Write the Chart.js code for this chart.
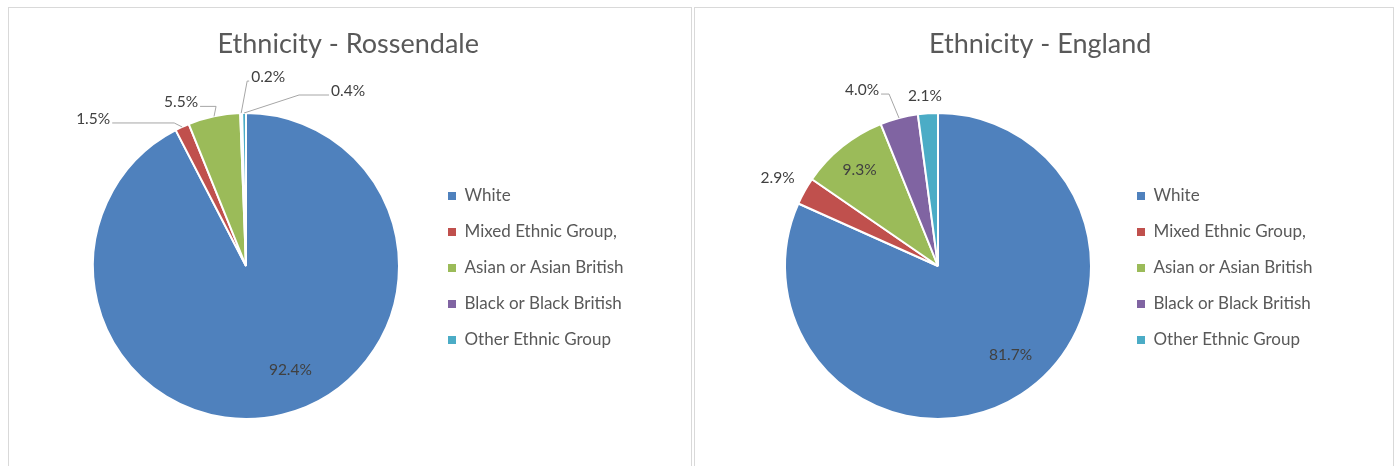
<!DOCTYPE html>
<html>
<head>
<meta charset="utf-8">
<script src="https://cdn.jsdelivr.net/npm/chart.js@4.4.1/dist/chart.umd.min.js"></script>
<style>
  body { margin: 0; background: #fff; width: 1397px; height: 466px; overflow: hidden; position: relative; font-family: Lato, sans-serif; }
  .box { position: absolute; top: 7px; height: 480px; border: 1px solid #d9d9d9; background: #fff; }
  #box1 { left: 8px; width: 682px; }
  #box2 { left: 694px; width: 698px; }
  canvas { position: absolute; top: 0; left: 0; }
</style>
</head>
<body>
<div class="box" id="box1"><canvas id="rossendaleChart" width="682" height="460"></canvas></div>
<div class="box" id="box2"><canvas id="englandChart" width="698" height="460"></canvas></div>
<script>
// data
const categories = ['White', 'Mixed Ethnic Group,', 'Asian or Asian British', 'Black or Black British', 'Other Ethnic Group'];
const rossendaleValues = [92.4, 1.5, 5.5, 0.2, 0.4];
const englandValues = [81.7, 2.9, 9.3, 4.0, 2.1];
const sliceColors = ['#4f81bd', '#c0504d', '#9bbb59', '#8064a2', '#4bacc6'];

const textColor = '#595959';
const legendFontSize = 17;
const legendBox = 8;
const legendPad = 19;

// where each percentage label sits (inside = fraction of radius, plus an offset from the slice edge / inner point)
const rossendalePlaces = [
    { inside: 0.73, dx: 18, dy: -5 },
    { dx: -89, dy: -8, leader: 62 },
    { dx: -33, dy: -14, leader: 16 },
    { dx: 27, dy: -36, leader: 2 },
    { dx: 104, dy: -22, leader: 30 }
];
const englandPlaces = [
    { inside: 0.74, dx: 11, dy: -6 },
    { dx: -27, dy: -13 },
    { inside: 0.82, dx: 0, dy: 2 },
    { dx: -37, dy: -28, leader: 8 },
    { dx: -3, dy: -17 }
];

// percentage labels + leader lines, positioned from the arcs Chart.js laid out
const pieLabels = {
    id: 'pieLabels',
    afterDatasetsDraw(chart, args, opts) {
        const ctx = chart.ctx;
        const meta = chart.getDatasetMeta(0);
        const values = chart.data.datasets[0].data;
        ctx.save();
        ctx.font = '15.5px Lato';
        ctx.fillStyle = '#404040';
        ctx.strokeStyle = '#a6a6a6';
        ctx.lineWidth = 1;
        ctx.textAlign = 'center';
        ctx.textBaseline = 'middle';
        meta.data.forEach(function (arc, i) {
            const p = arc.getProps(['x', 'y', 'startAngle', 'endAngle', 'outerRadius'], true);
            const mid = (p.startAngle + p.endAngle) / 2;
            const place = opts.places[i];
            const text = values[i].toFixed(1) + '%';
            const ex = p.x + Math.cos(mid) * p.outerRadius;
            const ey = p.y + Math.sin(mid) * p.outerRadius;
            let lx, ly;
            if (place.inside) {
                lx = p.x + Math.cos(mid) * p.outerRadius * place.inside + place.dx;
                ly = p.y + Math.sin(mid) * p.outerRadius * place.inside + place.dy;
            } else {
                lx = ex + place.dx;
                ly = ey + place.dy;
                if (place.leader) {
                    const w = ctx.measureText(text).width;
                    const side = lx < ex ? 1 : -1;
                    const ax = lx + side * (w / 2 + 2);
                    const ay = ly + 4;
                    ctx.beginPath();
                    ctx.moveTo(ax, ay);
                    ctx.lineTo(ax + side * place.leader, ay);
                    ctx.lineTo(ex, ey);
                    ctx.stroke();
                }
            }
            ctx.fillText(text, lx, ly);
        });
        ctx.restore();
    }
};

function widestLabel() {
    const c = document.createElement('canvas').getContext('2d');
    c.font = legendFontSize + 'px Lato';
    return Math.max.apply(null, categories.map(function (t) { return c.measureText(t).width; }));
}

function makePie(id, title, values, places, canvasW, centerX, legendBoxX) {
    // legend width in Chart.js = padding + box + gap + text + 10
    const colWidth = legendBox + legendFontSize / 2 + widestLabel();
    const legendLeft = legendBoxX - legendPad;
    const ctx = document.getElementById(id).getContext('2d');
    return new Chart(ctx, {
        type: 'pie',
        data: {
            labels: categories,
            datasets: [{
                data: values,
                backgroundColor: sliceColors,
                borderColor: '#ffffff',
                borderWidth: 2,
                hoverOffset: 0
            }]
        },
        options: {
            responsive: false,
            animation: false,
            events: [],
            layout: {
                padding: { top: 0, bottom: 48, left: 2 * centerX - legendLeft, right: canvasW - legendBoxX - colWidth - 10 }
            },
            plugins: {
                title: {
                    display: true,
                    text: title,
                    color: textColor,
                    font: { family: 'Lato', size: 27, weight: 'normal' },
                    padding: { top: 19.8, bottom: 51.8 }
                },
                legend: {
                    position: 'right',
                    // empty legend title only used to push the items down
                    title: { display: true, text: '', font: { size: 12 }, padding: 46.8 },
                    labels: {
                        color: textColor,
                        font: { family: 'Lato', size: legendFontSize },
                        boxWidth: legendBox,
                        boxHeight: legendBox,
                        padding: legendPad,
                        generateLabels: function (chart) {
                            return Chart.overrides.pie.plugins.legend.labels.generateLabels(chart)
                                .map(function (item) { item.lineWidth = 0; return item; });
                        }
                    }
                },
                tooltip: { enabled: false },
                pieLabels: { places: places }
            }
        },
        plugins: [pieLabels]
    });
}

makePie('rossendaleChart', 'Ethnicity - Rossendale', rossendaleValues, rossendalePlaces, 682, 237, 439);
makePie('englandChart', 'Ethnicity - England', englandValues, englandPlaces, 698, 243, 442);
</script>
</body>
</html>
